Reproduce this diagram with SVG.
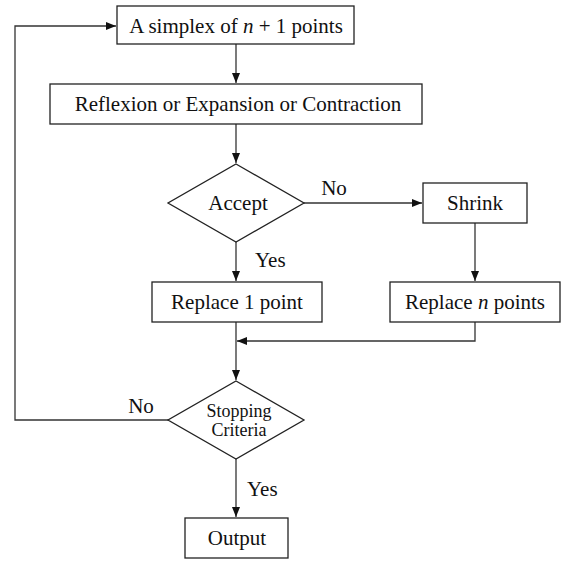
<svg xmlns="http://www.w3.org/2000/svg" width="564" height="561" viewBox="0 0 564 561">
<style>
.n{fill:#fff;stroke:#222;stroke-width:1.3}
.c{fill:none;stroke:#333;stroke-width:1.3}
text{font-family:"Liberation Serif","DejaVu Serif",serif;font-size:21px;fill:#111;text-anchor:middle}
.s{font-size:18px}
.l{text-anchor:start}
</style>
<defs>
<marker id="a" viewBox="0 0 10 8" refX="10" refY="4" markerWidth="10" markerHeight="8" markerUnits="userSpaceOnUse" orient="auto">
<path d="M0,0L10,4L0,8Z" fill="#111"/>
</marker>
</defs>
<g id="connectors">
<path class="c" d="M236,44V83" marker-end="url(#a)"/>
<path class="c" d="M236,124V163" marker-end="url(#a)"/>
<path class="c" d="M304,203H422" marker-end="url(#a)"/>
<path class="c" d="M236,242V281" marker-end="url(#a)"/>
<path class="c" d="M475,223V281" marker-end="url(#a)"/>
<path class="c" d="M475,322V341H237" marker-end="url(#a)"/>
<path class="c" d="M236,322V380" marker-end="url(#a)"/>
<path class="c" d="M169,420H15V26H116" marker-end="url(#a)"/>
<path class="c" d="M236,459V517" marker-end="url(#a)"/>
<text x="334" y="195">No</text>
<text class="l" x="255" y="267">Yes</text>
<text x="141" y="413">No</text>
<text class="l" x="247" y="496">Yes</text>
</g>
<g id="simplex">
<rect class="n" x="117" y="6" width="237" height="38"/>
<text x="236" y="33">A simplex of <tspan font-style="italic">n</tspan> + 1 points</text>
</g>
<g id="reflexion">
<rect class="n" x="50" y="84" width="372" height="40"/>
<text x="238" y="111">Reflexion or Expansion or Contraction</text>
</g>
<g id="accept">
<path class="n" d="M236,164L304,203L236,242L168,203Z"/>
<text x="238" y="210">Accept</text>
</g>
<g id="shrink">
<rect class="n" x="423" y="183" width="104" height="40"/>
<text x="475" y="210">Shrink</text>
</g>
<g id="replace1">
<rect class="n" x="152" y="282" width="170" height="40"/>
<text x="237" y="309">Replace 1 point</text>
</g>
<g id="replacen">
<rect class="n" x="390" y="282" width="170" height="40"/>
<text x="475" y="309">Replace <tspan font-style="italic">n</tspan> points</text>
</g>
<g id="stopping">
<path class="n" d="M236,381L304,420L236,459L168,420Z"/>
<text class="s" x="239" y="417">Stopping</text>
<text class="s" x="239" y="436">Criteria</text>
</g>
<g id="output">
<rect class="n" x="185" y="518" width="103" height="40"/>
<text x="237" y="545">Output</text>
</g>
</svg>
